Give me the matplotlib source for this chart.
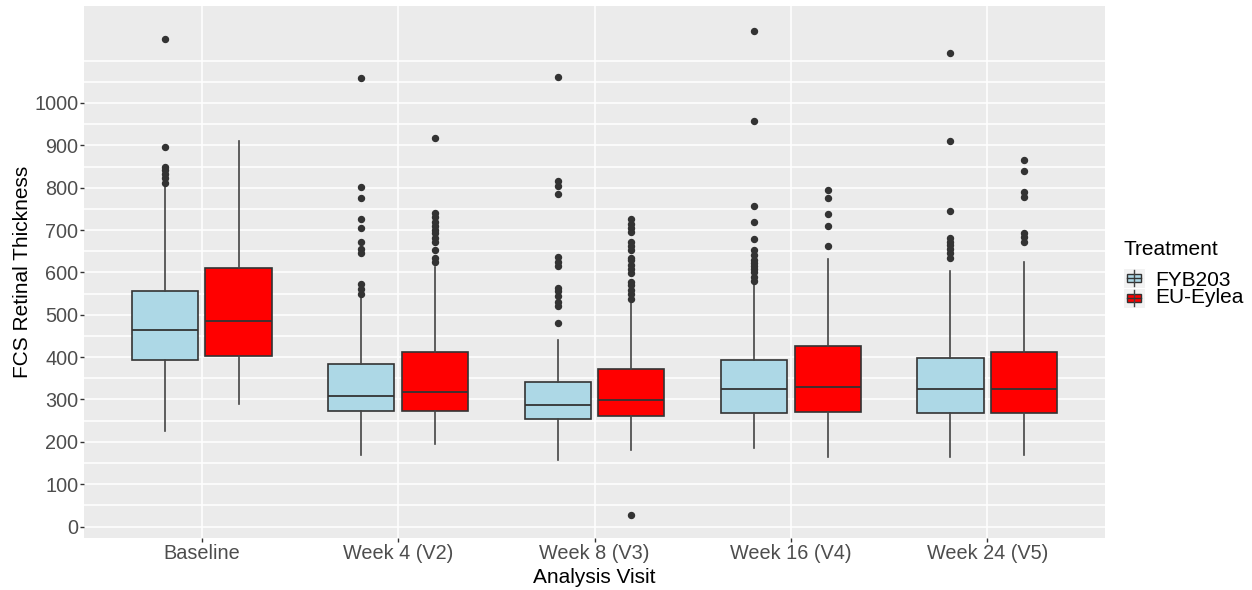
import matplotlib
matplotlib.use("Agg")
import matplotlib.pyplot as plt
from matplotlib.patches import Rectangle
from matplotlib.lines import Line2D

# ---------------- data ----------------
categories = ["Baseline", "Week 4 (V2)", "Week 8 (V3)", "Week 16 (V4)", "Week 24 (V5)"]
treatments = ["FYB203", "EU-Eylea"]

fyb_whislo = [226, 169, 156, 185, 165]
fyb_q1 = [393, 274, 254, 267, 267]
fyb_med = [463, 308, 286, 324, 324]
fyb_q3 = [556, 383, 342, 393, 399]
fyb_whishi = [805, 543, 441, 570, 603]
fyb_fliers = [
    [812, 822, 832, 842, 850, 895, 1150],
    [550, 560, 573, 646, 656, 673, 706, 726, 775, 801, 1058],
    [480, 520, 530, 545, 555, 563, 614, 625, 637, 785, 805, 815, 1061],
    [580, 590, 600, 609, 615, 622, 629, 640, 653, 678, 720, 756, 957, 1171],
    [634, 645, 655, 665, 673, 681, 744, 910, 1117],
]

eu_whislo = [289, 194, 181, 165, 169]
eu_q1 = [402, 274, 261, 270, 267]
eu_med = [485, 317, 298, 330, 324]
eu_q3 = [610, 412, 371, 427, 412]
eu_whishi = [910, 612, 531, 631, 625]
eu_fliers = [
    [],
    [625, 634, 653, 672, 681, 692, 700, 710, 720, 730, 740, 918],
    [27, 538, 548, 558, 570, 578, 598, 608, 618, 629, 634, 653, 663, 673, 695, 705, 715, 725],
    [662, 709, 739, 776, 795],
    [673, 684, 693, 779, 791, 839, 865],
]

y_ticks = [0, 100, 200, 300, 400, 500, 600, 700, 800, 900, 1000]
y_grid = [i * 50 for i in range(0, 23)]

colors = ["#ADD8E6", "#FF0000"]
edge = "#333333"

W, H = 1252, 590
plt.rcParams["font.family"] = ["Liberation Sans", "DejaVu Sans"]
fig = plt.figure(figsize=(W / 100, H / 100), dpi=100)

def fx(x):
    return x / W

def fy(y):
    return 1 - y / H

L, R, T, B = 84, 1105, 6, 538
ax = fig.add_axes([fx(L), fy(B), fx(R) - fx(L), fy(T) - fy(B)])
ax.set_facecolor("#EBEBEB")
for s in ax.spines.values():
    s.set_visible(False)

# grid
for g in y_grid:
    ax.axhline(g, color="white", lw=1.1, zorder=0)
for i in range(len(categories)):
    ax.axvline(i, color="white", lw=1.1, zorder=0)

groups = [
    (fyb_whislo, fyb_q1, fyb_med, fyb_q3, fyb_whishi, fyb_fliers),
    (eu_whislo, eu_q1, eu_med, eu_q3, eu_whishi, eu_fliers),
]
offsets = [-0.1875, 0.1875]
for gi, (wl, q1, md, q3, wh, fl) in enumerate(groups):
    stats = []
    for i in range(len(categories)):
        stats.append(dict(whislo=wl[i], q1=q1[i], med=md[i], q3=q3[i],
                          whishi=wh[i], fliers=fl[i]))
    pos = [i + offsets[gi] for i in range(len(categories))]
    ax.bxp(stats, positions=pos, widths=0.3375, patch_artist=True,
           showcaps=False, manage_ticks=False,
           boxprops=dict(facecolor=colors[gi], edgecolor=edge, linewidth=1.2),
           medianprops=dict(color=edge, linewidth=1.3),
           whiskerprops=dict(color="#444444", linewidth=1.2),
           flierprops=dict(marker="o", markersize=4.3, markerfacecolor=edge,
                           markeredgecolor=edge, linestyle="none"),
           zorder=3)

ax.set_xlim(-0.6, len(categories) - 0.4)
ax.set_ylim(-27, 1229)
ax.set_xticks(range(len(categories)))
ax.set_xticklabels(categories)
ax.set_yticks(y_ticks)
ax.tick_params(axis="both", colors=edge, length=3, width=1, labelsize=14.3,
               labelcolor="#4D4D4D")
ax.tick_params(axis="x", pad=1.5)
ax.tick_params(axis="y", pad=1.0)

fig.text(fx((L + R) / 2), fy(583), "Analysis Visit", ha="center", va="baseline",
         fontsize=15, color="black")
fig.text(fx(32), fy((T + B) / 2), "FCS Retinal Thickness", ha="right", va="center",
         rotation=90, fontsize=15, color="black")

# legend
fig.text(fx(1124), fy(255), "Treatment", ha="left", va="baseline", fontsize=15)
key_x0, key_x1 = 1123, 1145
key_tops = [268, 288]
labels_base = [285.7, 303.3]
for k in range(2):
    t = key_tops[k]
    fig.add_artist(Rectangle((fx(key_x0), fy(t + 20)), fx(key_x1) - fx(key_x0),
                             fy(t) - fy(t + 20), transform=fig.transFigure,
                             facecolor="#F2F2F2", edgecolor="white", lw=0.8))
    cx = (key_x0 + key_x1) / 2
    fig.add_artist(Line2D([fx(cx), fx(cx)], [fy(t + 2), fy(t + 18)],
                          transform=fig.transFigure, color="#444444", lw=1.0))
    fig.add_artist(Rectangle((fx(1127), fy(t + 14)), fx(1140.5) - fx(1127),
                             fy(t + 6) - fy(t + 14), transform=fig.transFigure,
                             facecolor=colors[k], edgecolor=edge, lw=1.0))
    fig.add_artist(Line2D([fx(1127), fx(1140.5)], [fy(t + 10), fy(t + 10)],
                          transform=fig.transFigure, color=edge, lw=1.0))
    fig.text(fx(1155), fy(labels_base[k]), treatments[k], ha="left", va="baseline",
             fontsize=15)

fig.savefig("out.png", dpi=100, facecolor="white")
